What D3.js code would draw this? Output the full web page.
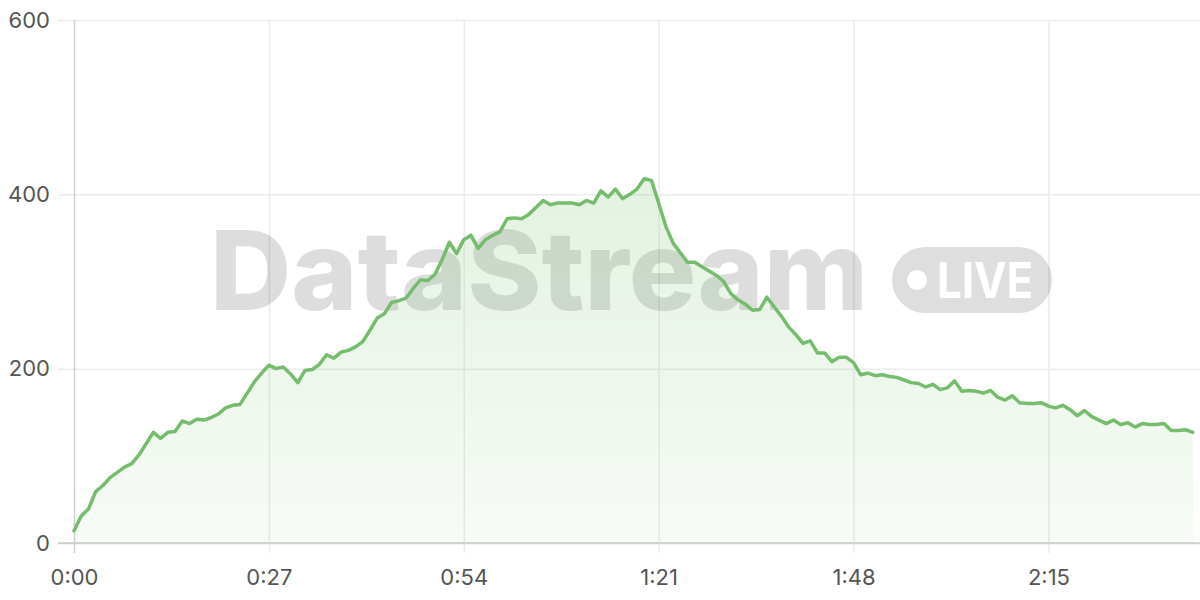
<!DOCTYPE html>
<html>
<head>
<meta charset="utf-8">
<script src="https://cdn.jsdelivr.net/npm/d3@7"></script>
<style>
  html, body { margin: 0; padding: 0; background: #fff; }
  svg { display: block; }
  .tick text { font-family: Inter, "Liberation Sans", sans-serif; fill: #555; }
</style>
</head>
<body>
<svg id="chart" width="1200" height="600"></svg>
<script>
// ---- data (one value per second, starting at 0:00) ----
const values = [
  14, 31, 39, 59, 66, 75, 81, 87, 91, 101,
  114, 127, 120, 127, 128, 140, 137, 142, 141, 144,
  148, 155, 158, 159, 172, 185, 195, 204, 200, 202,
  194, 184, 198, 199, 205, 216, 212, 219, 221, 225,
  231, 244, 258, 263, 276, 278, 281, 292, 302, 301,
  308, 325, 345, 332, 348, 353, 338, 348, 353, 357,
  372, 373, 372, 377, 385, 393, 388, 390, 390, 390,
  388, 393, 390, 404, 397, 406, 395, 400, 406, 418,
  416, 390, 363, 344, 333, 322, 322, 317, 312, 307,
  300, 286, 279, 274, 267, 268, 282, 271, 260, 248,
  239, 229, 232, 218, 218, 208, 213, 213, 207, 193,
  195, 192, 193, 191, 190, 187, 184, 183, 179, 182,
  176, 178, 186, 174, 175, 174, 172, 175, 167, 164,
  169, 161, 160, 160, 161, 157, 155, 158, 153, 146,
  152, 145, 141, 137, 141, 136, 138, 133, 137, 136,
  136, 137, 129, 129, 130, 127
];
const xTickValues = [0, 27, 54, 81, 108, 135];
const xTickLabels = ["0:00", "0:27", "0:54", "1:21", "1:48", "2:15"];
const yTickValues = [0, 200, 400, 600];
const watermarkText = "DataStream";
const badgeText = "LIVE";

// ---- layout ----
const svg = d3.select("#chart");
const x = d3.scaleLinear().domain([0, 156]).range([74, 1200]);
const y = d3.scaleLinear().domain([0, 600]).range([543, 20]);
const data = values.map((v, i) => ({ t: i, v }));

// gridlines / axes
const yAxis = d3.axisLeft(y).tickValues(yTickValues).tickSize(-(1200 - 58)).tickPadding(8);
const gy = svg.append("g").attr("transform", "translate(58,0)").call(yAxis);
gy.select(".domain").remove();
gy.selectAll(".tick line").attr("stroke", d => d === 0 ? "#cfcfcf" : "#ebebeb").attr("stroke-width", 1.5);
gy.selectAll(".tick text").attr("font-size", 22);

const xAxis = d3.axisBottom(x).tickValues(xTickValues)
  .tickFormat((d, i) => xTickLabels[i]).tickSize(-(553 - 20)).tickPadding(16);
const gx = svg.append("g").attr("transform", "translate(0,553)").call(xAxis);
gx.select(".domain").remove();
gx.selectAll(".tick line").attr("stroke", d => d === 0 ? "#cfcfcf" : "#ebebeb").attr("stroke-width", 1.5);
gx.selectAll(".tick text").attr("font-size", 22);

// redraw baseline on top of vertical lines
svg.append("line").attr("x1", 58).attr("x2", 1200).attr("y1", y(0)).attr("y2", y(0))
  .attr("stroke", "#cfcfcf").attr("stroke-width", 1.5);

// watermark
const wm = svg.append("g").attr("opacity", 0.13);
wm.append("text").text(watermarkText)
  .attr("x", 210).attr("y", 310)
  .attr("font-family", "Inter, 'Liberation Sans', sans-serif")
  .attr("font-weight", 800).attr("font-size", 110)
  .attr("textLength", 658).attr("lengthAdjust", "spacingAndGlyphs")
  .attr("fill", "#000");
const badge = svg.append("g");
badge.append("rect").attr("x", 892).attr("y", 247).attr("width", 160).attr("height", 66)
  .attr("rx", 33).attr("fill", "#000").attr("opacity", 0.13);
badge.append("circle").attr("cx", 917).attr("cy", 280).attr("r", 10).attr("fill", "#fff");
badge.append("text").text(badgeText)
  .attr("x", 937).attr("y", 298)
  .attr("font-family", "Inter, 'Liberation Sans', sans-serif")
  .attr("font-weight", 700).attr("font-size", 50)
  .attr("textLength", 96).attr("lengthAdjust", "spacingAndGlyphs")
  .attr("fill", "#fff");

// gradient fill
const defs = svg.append("defs");
const grad = defs.append("linearGradient").attr("id", "fillGrad")
  .attr("gradientUnits", "userSpaceOnUse")
  .attr("x1", 0).attr("x2", 0).attr("y1", y(d3.max(values))).attr("y2", y(0));
grad.append("stop").attr("offset", "0%").attr("stop-color", "#73BF69").attr("stop-opacity", 0.2);
grad.append("stop").attr("offset", "100%").attr("stop-color", "#73BF69").attr("stop-opacity", 0.06);

const area = d3.area().x(d => x(d.t)).y0(y(0)).y1(d => y(d.v));
svg.append("path").datum(data).attr("d", area).attr("fill", "url(#fillGrad)");

const line = d3.line().x(d => x(d.t)).y(d => y(d.v));
svg.append("path").datum(data).attr("d", line)
  .attr("fill", "none").attr("stroke", "#76BC6D").attr("stroke-width", 3.5)
  .attr("stroke-linejoin", "round").attr("stroke-linecap", "round");
</script>
</body>
</html>
